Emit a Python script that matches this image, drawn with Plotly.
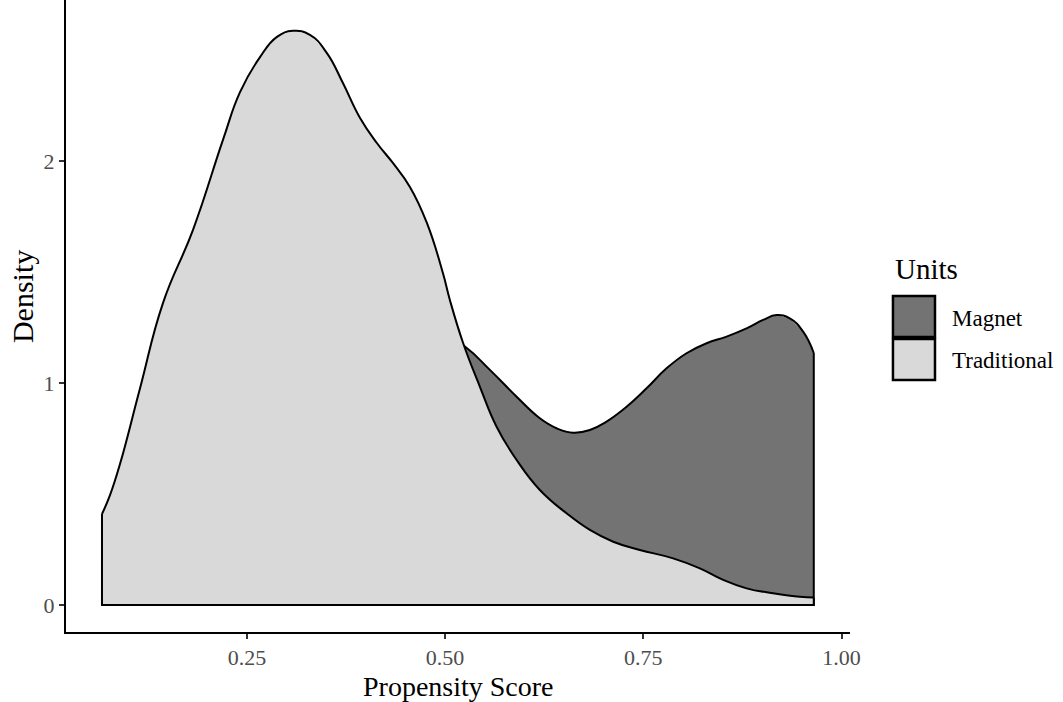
import plotly.graph_objects as go

# ---- data ----
trad_x = [0.0672, 0.0773, 0.0899, 0.1151, 0.1441, 0.1820, 0.2198, 0.2413, 0.2665, 0.2879,
          0.3081, 0.3295, 0.3509, 0.3711, 0.3925, 0.4139, 0.4341, 0.4556, 0.4770, 0.4972,
          0.5060, 0.5228, 0.5439, 0.5649, 0.5902, 0.6195, 0.6532, 0.6826, 0.7120, 0.7456,
          0.7876, 0.8213, 0.8507, 0.8802, 0.9137, 0.9474, 0.9650]
trad_y = [0.410, 0.495, 0.635, 0.975, 1.360, 1.690, 2.095, 2.310, 2.468, 2.559,
          2.586, 2.568, 2.486, 2.351, 2.195, 2.081, 1.991, 1.883, 1.721, 1.495,
          1.374, 1.179, 0.983, 0.803, 0.653, 0.518, 0.413, 0.338, 0.285, 0.248,
          0.210, 0.165, 0.113, 0.075, 0.053, 0.037, 0.034]

magnet_x = [0.0672, 0.10, 0.15, 0.20, 0.25, 0.30, 0.35, 0.40, 0.45, 0.49,
            0.5250, 0.5565, 0.5902, 0.6195, 0.6406, 0.6616, 0.6826, 0.7036, 0.7289, 0.7541,
            0.7793, 0.8045, 0.8298, 0.8550, 0.8802, 0.9011, 0.9180, 0.9348, 0.9516, 0.9650]
magnet_y = [0.20, 0.30, 0.45, 0.62, 0.78, 0.92, 1.05, 1.16, 1.24, 1.24,
            1.164, 1.059, 0.938, 0.841, 0.796, 0.776, 0.788, 0.826, 0.893, 0.976,
            1.066, 1.134, 1.179, 1.209, 1.246, 1.284, 1.306, 1.291, 1.231, 1.135]

x_ticks = [0.25, 0.50, 0.75, 1.00]
x_tick_labels = ["0.25", "0.50", "0.75", "1.00"]
y_ticks = [0, 1, 2]
y_tick_labels = ["0", "1", "2"]

series = [
    ("Magnet", magnet_x, magnet_y, "#737373"),
    ("Traditional", trad_x, trad_y, "#d9d9d9"),
]

FONT = "Liberation Serif, Times New Roman, serif"

fig = go.Figure()
for name, xs, ys, col in series:
    # filled area
    fig.add_trace(go.Scatter(
        x=[xs[0]] + xs + [xs[-1]], y=[0] + ys + [0],
        mode="lines", fill="toself", fillcolor=col,
        line=dict(width=0, color=col), hoverinfo="skip", showlegend=False))
    # curve outline
    fig.add_trace(go.Scatter(
        x=xs, y=ys, mode="lines",
        line=dict(color="black", width=2, shape="spline", smoothing=1.3),
        name=name, showlegend=False))
    # edges and baseline
    fig.add_trace(go.Scatter(
        x=[xs[0], xs[0], xs[-1], xs[-1]], y=[ys[0], 0, 0, ys[-1]], mode="lines",
        line=dict(color="black", width=2), hoverinfo="skip", showlegend=False))

fig.update_xaxes(range=[0.0218, 1.0107], tickvals=x_ticks, ticktext=x_tick_labels,
                 showline=True, linecolor="black", linewidth=2, showgrid=False, zeroline=False,
                 ticks="outside", ticklen=5, tickwidth=1.5, tickcolor="#333333",
                 tickfont=dict(family=FONT, size=22, color="#4d4d4d"))
fig.update_yaxes(range=[-0.1216, 2.725], tickvals=y_ticks, ticktext=y_tick_labels,
                 showline=True, linecolor="black", linewidth=2, showgrid=False, zeroline=False,
                 ticks="outside", ticklen=5, tickwidth=1.5, tickcolor="#333333",
                 tickfont=dict(family=FONT, size=22, color="#4d4d4d"))

annotations = [
    dict(text="Propensity Score", x=0.5, y=-0.0870, xref="paper", yref="paper",
         xanchor="center", yanchor="middle", showarrow=False,
         font=dict(family=FONT, size=28, color="black")),
    dict(text="Density", x=-0.0561, y=0.530, xref="paper", yref="paper", textangle=-90,
         xanchor="center", yanchor="middle", showarrow=False,
         font=dict(family=FONT, size=30, color="black")),
    dict(text="Units", x=1.0548, y=0.5744, xref="paper", yref="paper",
         xanchor="left", yanchor="middle", showarrow=False,
         font=dict(family=FONT, size=29, color="black")),
    dict(text="Magnet", x=1.1276, y=0.4968, xref="paper", yref="paper",
         xanchor="left", yanchor="middle", showarrow=False,
         font=dict(family=FONT, size=23, color="black")),
    dict(text="Traditional", x=1.1276, y=0.4288, xref="paper", yref="paper",
         xanchor="left", yanchor="middle", showarrow=False,
         font=dict(family=FONT, size=23, color="black")),
]
shapes = [
    dict(type="rect", xref="paper", yref="paper", x0=1.0548, x1=1.1084, y0=0.4668, y1=0.5316,
         fillcolor="#737373", line=dict(color="black", width=2.5)),
    dict(type="rect", xref="paper", yref="paper", x0=1.0548, x1=1.1084, y0=0.3987, y1=0.4636,
         fillcolor="#d9d9d9", line=dict(color="black", width=2.5)),
]

fig.update_layout(width=1063, height=702, margin=dict(l=66, r=213, t=0, b=70),
                  plot_bgcolor="white", paper_bgcolor="white", showlegend=False,
                  font=dict(family=FONT), annotations=annotations, shapes=shapes)

fig.write_html("out.html")
